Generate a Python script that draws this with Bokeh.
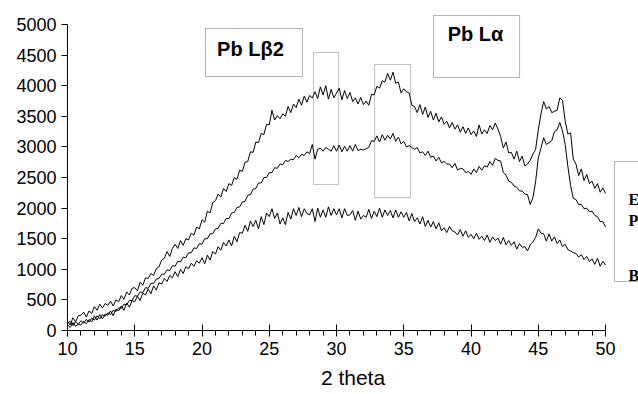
from bokeh.plotting import figure
from bokeh.models import Range1d, FixedTicker, BoxAnnotation, Label, ColumnDataSource
from bokeh.embed import file_html
from bokeh.resources import INLINE

# 2-theta grid (step 0.2 from 10 to 50)
two_theta = [round(10 + 0.2 * i, 1) for i in range(201)]

series_E = [
    150, 90, 210, 140, 240,
    250, 300, 220, 320, 280,
    390, 330, 430, 370, 440,
    410, 480, 400, 500, 470,
    570, 510, 630, 580, 690,
    700, 650, 790, 740, 860,
    850, 930, 900, 1010, 1040,
    1150, 1180, 1290, 1210, 1340,
    1410, 1340, 1470, 1390, 1500,
    1480, 1590, 1560, 1690, 1660,
    1810, 1770, 1950, 1920, 2090,
    2120, 2230, 2180, 2320, 2270,
    2400, 2370, 2500, 2470, 2620,
    2600, 2750, 2760, 2920, 2910,
    3080, 3070, 3220, 3200, 3370,
    3360, 3600, 3440, 3510, 3460,
    3540, 3500, 3660, 3560, 3700,
    3640, 3780, 3680, 3830, 3730,
    3840, 3800, 3900, 3790, 3980,
    3850, 4000, 3780, 3940, 3800,
    3880, 3960, 3770, 3920, 3790,
    3890, 3740, 3800, 3700, 3810,
    3690, 3750, 3680, 3860, 3850,
    3990, 3960, 4080, 4060, 4200,
    4090, 4220, 4040, 4060, 3880,
    3950, 3900, 3880, 3680, 3660,
    3560, 3690, 3530, 3650, 3480,
    3580, 3440, 3550, 3410, 3490,
    3370, 3420, 3310, 3400, 3290,
    3360, 3240, 3330, 3220, 3310,
    3200, 3260, 3170, 3360, 3210,
    3280, 3220, 3350, 3280, 3390,
    3290, 3170, 2980, 3080, 2900,
    2910, 2800, 2930, 2760, 2850,
    2690, 2720, 2780, 2880, 2960,
    3280, 3540, 3740, 3620, 3660,
    3560, 3580, 3600, 3800, 3760,
    3420, 3210, 3230, 2800, 2720,
    2530, 2640, 2450, 2550, 2400,
    2440, 2320, 2400, 2260, 2330,
    2240,
]

series_P = [
    120, 150, 80, 140, 100,
    160, 120, 180, 140, 200,
    170, 240, 190, 260, 230,
    290, 260, 330, 310, 370,
    360, 430, 420, 490, 490,
    570, 560, 630, 620, 700,
    690, 770, 770, 840, 850,
    920, 920, 990, 980, 1060,
    1050, 1130, 1120, 1200, 1190,
    1270, 1270, 1350, 1340, 1420,
    1410, 1500, 1500, 1580, 1580,
    1660, 1670, 1750, 1750, 1830,
    1830, 1920, 1930, 2010, 2020,
    2100, 2110, 2210, 2220, 2310,
    2320, 2410, 2410, 2500, 2500,
    2580, 2580, 2660, 2650, 2720,
    2710, 2780, 2760, 2800, 2790,
    2860, 2820, 2880, 2860, 2920,
    2890, 3040, 2800, 2960, 2980,
    2930, 2990, 2960, 2930, 3020,
    2930, 3030, 2920, 3010, 2930,
    3020, 2930, 3040, 2940, 2960,
    2950, 2970, 2990, 3100, 3090,
    3180, 3080, 3200, 3110, 3190,
    3130, 3220, 3090, 3160, 3050,
    3090, 3000, 3020, 2990, 2960,
    2990, 2900, 2920, 2860, 2930,
    2830, 2850, 2770, 2830, 2740,
    2760, 2720, 2720, 2660, 2730,
    2620, 2650, 2640, 2580, 2600,
    2550, 2640, 2580, 2680, 2620,
    2690, 2670, 2760, 2700, 2810,
    2780, 2770, 2580, 2540, 2440,
    2420, 2360, 2340, 2280, 2280,
    2230, 2220, 2060, 2170, 2430,
    2820, 2980, 3150, 3040, 3070,
    3100, 3250, 3280, 3400, 3260,
    3040, 2680, 2370, 2160, 2140,
    2060, 2060, 1990, 2000, 1940,
    1950, 1880, 1860, 1780, 1780,
    1690,
]

series_B = [
    90, 50, 130, 70, 100,
    90, 150, 110, 180, 140,
    240, 170, 260, 190, 270,
    250, 320, 240, 350, 320,
    400, 330, 450, 380, 490,
    470, 560, 490, 610, 580,
    680, 600, 730, 660, 780,
    760, 850, 800, 900, 860,
    960, 880, 1000, 930, 1040,
    1010, 1100, 1050, 1140, 1100,
    1190, 1090, 1230, 1150, 1290,
    1250, 1370, 1310, 1440, 1380,
    1480, 1380, 1540, 1450, 1600,
    1590, 1720, 1620, 1790, 1700,
    1800, 1660, 1860, 1730, 1920,
    1860, 1990, 1830, 1920, 1740,
    1840, 1730, 1930, 1820, 1990,
    1880, 2010, 1860, 1990, 1910,
    1890, 1990, 1780, 2000, 1850,
    1970, 1850, 2020, 1880, 1990,
    1890, 1990, 1840, 1990, 1880,
    1890, 1960, 1800, 1950, 1820,
    1880, 1850, 1980, 1830, 1950,
    1860, 2000, 1850, 1970, 1880,
    1960, 1840, 1970, 1850, 1940,
    1850, 1930, 1790, 1910, 1780,
    1840, 1740, 1860, 1700, 1800,
    1690, 1780, 1660, 1760, 1630,
    1680, 1600, 1700, 1630, 1610,
    1560, 1650, 1540, 1630, 1520,
    1570, 1500, 1590, 1490, 1540,
    1470, 1560, 1440, 1530, 1470,
    1510, 1410, 1520, 1400, 1470,
    1390, 1450, 1330, 1420, 1360,
    1370, 1300, 1400, 1450, 1520,
    1660, 1590, 1580, 1460, 1580,
    1460, 1530, 1420, 1480, 1370,
    1410, 1320, 1300, 1270, 1260,
    1200, 1240, 1160, 1210, 1130,
    1170, 1080, 1180, 1050, 1130,
    1070,
]

legend_labels = ["E", "P", "B"]
y_ticks = [0, 500, 1000, 1500, 2000, 2500, 3000, 3500, 4000, 4500, 5000]
x_ticks = [10, 15, 20, 25, 30, 35, 40, 45, 50]
x_minor = list(range(10, 51))

p = figure(width=638, height=394, output_backend="svg", toolbar_location=None,
           x_range=Range1d(10, 52.45), y_range=Range1d(0, 5392),
           min_border_left=67, min_border_right=0, min_border_top=0, min_border_bottom=64)
p.outline_line_color = None
p.xgrid.grid_line_color = None
p.ygrid.grid_line_color = None
p.background_fill_color = "white"
p.border_fill_color = "white"

src = ColumnDataSource(dict(x=two_theta, E=series_E, P=series_P, B=series_B))
for name in ["E", "P", "B"]:
    p.line("x", name, source=src, line_color="black", line_width=1)

# axes
xa = p.xaxis[0]
xa.ticker = FixedTicker(ticks=x_ticks, minor_ticks=x_minor)
xa.bounds = (10, 50)
xa.major_tick_in = 6
xa.major_tick_out = 6
xa.minor_tick_in = 0
xa.minor_tick_out = 5
xa.axis_line_color = "black"
xa.major_tick_line_color = "black"
xa.minor_tick_line_color = "black"
xa.major_label_text_font = "Liberation Sans"
xa.major_label_text_font_size = "18px"
xa.major_label_text_color = "black"
xa.major_label_standoff = 5
xa.axis_label = "2 theta"
xa.axis_label_text_font = "Liberation Sans"
xa.axis_label_text_font_size = "21px"
xa.axis_label_text_font_style = "normal"
xa.axis_label_text_color = "black"
xa.axis_label_standoff = 8

ya = p.yaxis[0]
ya.ticker = FixedTicker(ticks=y_ticks, minor_ticks=[])
ya.bounds = (0, 5000)
ya.major_tick_in = 0
ya.major_tick_out = 6
ya.minor_tick_line_color = None
ya.axis_line_color = "black"
ya.major_tick_line_color = "black"
ya.major_label_text_font = "Liberation Sans"
ya.major_label_text_font_size = "18px"
ya.major_label_text_color = "black"
ya.major_label_standoff = 5

# peak marker rectangles
p.add_layout(BoxAnnotation(left=28.29, right=30.15, bottom=2386, top=4542,
                           fill_alpha=0, line_color="#303030", line_width=1))
p.add_layout(BoxAnnotation(left=32.83, right=35.50, bottom=2173, top=4346,
                           fill_alpha=0, line_color="#303030", line_width=1))

# text boxes
p.add_layout(BoxAnnotation(left=20.26, right=27.47, bottom=4150, top=4935,
                           fill_color="white", fill_alpha=1, line_color="black", line_width=1))
p.add_layout(Label(x=23.6, y=4600, text="Pb L\u03b22", text_align="center", text_baseline="middle",
                   text_font="Liberation Sans", text_font_style="bold", text_font_size="20px",
                   text_color="black"))
p.add_layout(BoxAnnotation(left=37.21, right=43.61, bottom=4134, top=5147,
                           fill_color="white", fill_alpha=1, line_color="black", line_width=1))
p.add_layout(Label(x=40.33, y=4850, text="Pb L\u03b1", text_align="center", text_baseline="middle",
                   text_font="Liberation Sans", text_font_style="bold", text_font_size="20px",
                   text_color="black"))

# legend box (cut by the right edge)
p.add_layout(BoxAnnotation(left=50.67, right=53.5, bottom=800, top=2761,
                           fill_color="white", fill_alpha=1, line_color="black", line_width=1))
for lab, yy in zip(legend_labels, [2140, 1797, 899]):
    p.add_layout(Label(x=51.7, y=yy, text=lab, text_align="left", text_baseline="middle",
                       text_font="Liberation Serif", text_font_style="bold", text_font_size="16px",
                       text_color="black"))

open("out.html", "w").write(file_html(p, INLINE))
